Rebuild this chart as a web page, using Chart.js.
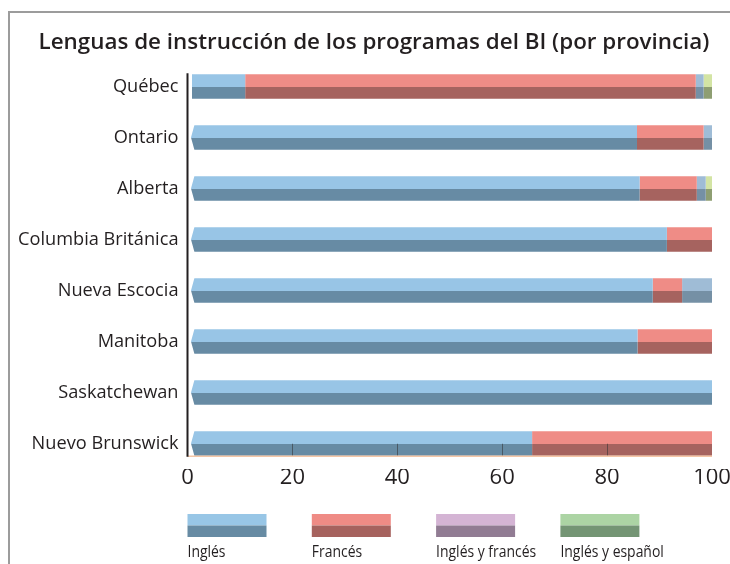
<!DOCTYPE html>
<html><head><meta charset="utf-8">
<script src="https://cdn.jsdelivr.net/npm/chart.js@4/dist/chart.umd.min.js"></script>
<style>
html,body{margin:0;padding:0;background:#fff;}
#wrap{position:relative;width:730px;height:564px;overflow:hidden;background:#fff;}
#frame{position:absolute;left:8px;top:11px;width:800px;height:600px;border-left:2px solid #9c9c9c;border-top:2px solid #9c9c9c;}
canvas{position:absolute;left:0;top:0;}
</style></head><body>
<div id="wrap"><div id="frame"></div><canvas id="c" width="730" height="564"></canvas></div>
<script>
const titleText = 'Lenguas de instrucción de los programas del BI (por provincia)';
const provinces = ['Québec','Ontario','Alberta','Columbia Británica','Nueva Escocia','Manitoba','Saskatchewan','Nuevo Brunswick'];
const seriesNames = ['Inglés','Francés','Inglés y francés','Inglés y español'];
const ingles        = [11.0, 85.7, 86.2, 91.4, 88.7, 85.8, 100, 65.7];
const frances       = [85.9, 12.7, 10.9,  8.6,  5.6, 14.2,   0, 34.3];
const inglesFrances = [ 1.5,  1.6,  1.7,  0,    5.7,  0,     0,  0];
const inglesEspanol = [ 1.6,  0,    1.2,  0,    0,    0,     0,  0];
const xTicks = [0, 20, 40, 60, 80, 100];

const barTop    = ['#98c5e6','#ef8c86','#9fbcd6','#d3e4a4'];
const barBottom = ['#678ba4','#a6635f','#7590a5','#8e9e72'];
const legTop    = ['#98c6e6','#ef8b85','#d4b4d4','#acd4a4'];
const legBottom = ['#678ba3','#a6625e','#917c93','#749574'];
const BAR_FRAC = 0.48;

const allSeries = [ingles, frances, inglesFrances, inglesEspanol];
const datasets = allSeries.map((d, i) => ({
  label: seriesNames[i], data: d,
  backgroundColor: () => barTop[i], borderWidth: 0,
  barPercentage: BAR_FRAC, categoryPercentage: 1
}));

const decor = {
  id: 'decor',
  beforeDatasetsDraw(chart){
    const ctx = chart.ctx;
    chart.data.datasets.forEach((ds, i) => {
      chart.getDatasetMeta(i).data.forEach(el => {
        const h = el.height / 2;
        if (!isFinite(el.y) || !isFinite(h) || h <= 0) return;
        const g = ctx.createLinearGradient(0, el.y - h, 0, el.y + h);
        g.addColorStop(0, barTop[i]); g.addColorStop(0.52, barTop[i]);
        g.addColorStop(0.52, barBottom[i]); g.addColorStop(1, barBottom[i]);
        el.options.backgroundColor = g;
      });
    });
  },
  afterDatasetsDraw(chart){
    const ctx = chart.ctx, xs = chart.scales.x;
    const els = chart.getDatasetMeta(0).data;
    const first = els[0], last = els[els.length - 1];
    const topY = first.y - first.height / 2;
    const botY = last.y + last.height / 2;
    const x0 = xs.getPixelForValue(0);
    ctx.save();
    // left end shaping (gap from axis, chevron ends)
    ctx.fillStyle = '#ffffff';
    els.forEach((el, i) => {
      const t = el.y - el.height / 2 - 0.5, b = el.y + el.height / 2 + 0.5, m = el.y;
      ctx.beginPath();
      if (i === 0) {
        ctx.rect(x0, t, 4.5, b - t);
      } else {
        ctx.moveTo(x0, t); ctx.lineTo(x0 + 7, t); ctx.lineTo(x0 + 3.5, m);
        ctx.lineTo(x0 + 7, b); ctx.lineTo(x0, b); ctx.closePath();
      }
      ctx.fill();
    });
    ctx.strokeStyle = 'rgba(50,50,50,0.55)'; ctx.lineWidth = 1;
    xTicks.slice(1, -1).forEach(v => {
      const x = Math.round(xs.getPixelForValue(v)) + 0.5;
      ctx.beginPath(); ctx.moveTo(x, botY - 12); ctx.lineTo(x, botY); ctx.stroke();
    });
    ctx.strokeStyle = '#f5c6a6'; ctx.lineWidth = 1.5;
    ctx.beginPath(); ctx.moveTo(x0, botY + 0.5); ctx.lineTo(xs.getPixelForValue(100), botY + 0.5); ctx.stroke();
    ctx.strokeStyle = '#231f20'; ctx.lineWidth = 2;
    ctx.beginPath(); ctx.moveTo(x0, topY - 1); ctx.lineTo(x0, botY + 1); ctx.stroke();
    ctx.restore();
  },
  afterDraw(chart){
    const ctx = chart.ctx, ca = chart.chartArea;
    ctx.save();
    ctx.fillStyle = '#231f20';
    ctx.font = '600 22.4px "Open Sans"';
    ctx.textAlign = 'center'; ctx.textBaseline = 'alphabetic';
    ctx.fillText(titleText, 374, 49);
    const sw = 79, gap = 124.3, sy = 514, sh = 23;
    ctx.font = '17px "Open Sans"';
    ctx.textAlign = 'left';
    seriesNames.forEach((n, i) => {
      const x = ca.left + i * gap;
      ctx.fillStyle = legTop[i]; ctx.fillRect(x, sy, sw, sh / 2);
      ctx.fillStyle = legBottom[i]; ctx.fillRect(x, sy + sh / 2, sw, sh / 2);
      ctx.fillStyle = '#231f20';
      ctx.save();
      ctx.translate(x, 557);
      ctx.scale(0.82, 1);
      ctx.fillText(n, 0, 0);
      ctx.restore();
    });
    ctx.restore();
  }
};

new Chart(document.getElementById('c'), {
  type: 'bar',
  data: { labels: provinces, datasets },
  options: {
    responsive: false, animation: false, indexAxis: 'y',
    layout: { padding: { top: 61, bottom: 65, left: 0, right: 18 } },
    plugins: { legend: { display: false }, title: { display: false }, tooltip: { enabled: false } },
    scales: {
      x: {
        stacked: true, min: 0, max: 100,
        afterBuildTicks(s){ s.ticks = xTicks.map(v => ({ value: v })); },
        ticks: { font: { family: 'Open Sans', size: 22 }, color: '#231f20', padding: -4, maxRotation: 0 },
        grid: { display: false, drawTicks: false }, border: { display: false },
        afterFit(s){ s.height = 30; }
      },
      y: {
        stacked: true,
        ticks: { font: { family: 'Open Sans', size: 18.2 }, color: '#231f20', padding: 9 },
        grid: { display: false, drawTicks: false }, border: { display: false },
        afterFit(s){ s.width = 187.5; }
      }
    }
  },
  plugins: [decor]
});
</script>
</body></html>
